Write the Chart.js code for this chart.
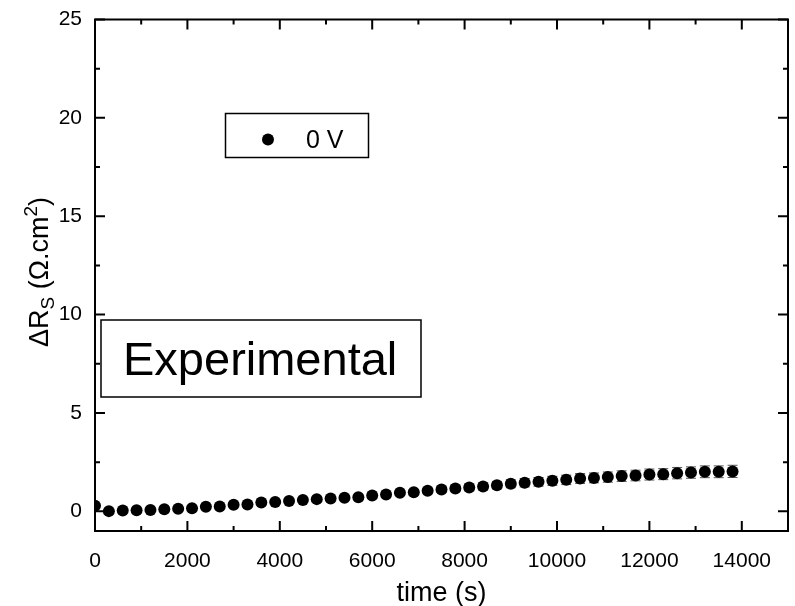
<!DOCTYPE html>
<html>
<head>
<meta charset="utf-8">
<script src="https://cdn.jsdelivr.net/npm/chart.js@4.4.0/dist/chart.umd.min.js"></script>
<style>
  html, body { margin: 0; padding: 0; background: #fff; }
</style>
</head>
<body>
<canvas id="chart" width="795" height="606"></canvas>
<script>
const FONT = '"Liberation Sans", Arial, sans-serif';

// measurement times (s)
const times = [
  0, 300, 600, 900, 1200, 1500, 1800, 2100, 2400, 2700,
  3000, 3300, 3600, 3900, 4200, 4500, 4800, 5100, 5400, 5700,
  6000, 6300, 6600, 6900, 7200, 7500, 7800, 8100, 8400, 8700,
  9000, 9300, 9600, 9900, 10200, 10500, 10800, 11100, 11400, 11700,
  12000, 12300, 12600, 12900, 13200, 13500, 13800,
];

// series resistance change (Ohm.cm2) at 0 V
const deltaRs = [
  0.28, 0.01, 0.04, 0.06, 0.07, 0.11, 0.13, 0.16, 0.23, 0.24,
  0.33, 0.35, 0.45, 0.48, 0.52, 0.58, 0.62, 0.65, 0.69, 0.72,
  0.80, 0.85, 0.94, 0.97, 1.04, 1.11, 1.16, 1.21, 1.26, 1.33,
  1.40, 1.45, 1.50, 1.55, 1.60, 1.67, 1.70, 1.74, 1.79, 1.82,
  1.87, 1.89, 1.94, 1.97, 2.01, 2.01, 2.03,
];

// standard deviation of each point
const errors = [
  0.05, 0.05, 0.05, 0.05, 0.05, 0.05, 0.05, 0.06, 0.06, 0.06,
  0.07, 0.07, 0.08, 0.08, 0.09, 0.09, 0.10, 0.10, 0.11, 0.11,
  0.12, 0.12, 0.13, 0.13, 0.14, 0.15, 0.16, 0.17, 0.18, 0.19,
  0.20, 0.21, 0.22, 0.23, 0.24, 0.25, 0.25, 0.26, 0.27, 0.27,
  0.28, 0.28, 0.29, 0.29, 0.30, 0.30, 0.31,
];

const xTicks = [0, 2000, 4000, 6000, 8000, 10000, 12000, 14000];
const xMinor = [1000, 3000, 5000, 7000, 9000, 11000, 13000, 15000];
const yTicks = [0, 5, 10, 15, 20, 25];
const yMinor = [2.5, 7.5, 12.5, 17.5, 22.5];

const points = times.map((t, i) => ({ x: t, y: deltaRs[i] }));

// error bars, drawn under the markers
const errorBars = {
  id: "errorBars",
  beforeDatasetsDraw(chart) {
    const ctx = chart.ctx;
    const xs = chart.scales.x, ys = chart.scales.y;
    const a = chart.chartArea;
    ctx.save();
    ctx.beginPath();
    ctx.rect(a.left, a.top, a.right - a.left, a.bottom - a.top);
    ctx.clip();
    ctx.strokeStyle = "#555";
    ctx.lineWidth = 1;
    for (let i = 0; i < times.length; i++) {
      const px = xs.getPixelForValue(times[i]);
      const top = ys.getPixelForValue(deltaRs[i] + errors[i]);
      const bot = ys.getPixelForValue(deltaRs[i] - errors[i]);
      ctx.beginPath();
      ctx.moveTo(px, top);
      ctx.lineTo(px, bot);
      ctx.moveTo(px - 5, top);
      ctx.lineTo(px + 5, top);
      ctx.moveTo(px - 5, bot);
      ctx.lineTo(px + 5, bot);
      ctx.stroke();
    }
    ctx.restore();
  },
};

// boxed frame with inward ticks on all four sides
const frame = {
  id: "frame",
  afterDatasetsDraw(chart) {
    const ctx = chart.ctx;
    const a = chart.chartArea;
    const xs = chart.scales.x, ys = chart.scales.y;
    ctx.save();
    ctx.strokeStyle = "#000";
    ctx.lineWidth = 2;
    ctx.strokeRect(a.left, a.top, a.right - a.left, a.bottom - a.top);
    const tickX = (vals, len) => {
      ctx.beginPath();
      for (const v of vals) {
        const px = xs.getPixelForValue(v);
        ctx.moveTo(px, a.bottom);
        ctx.lineTo(px, a.bottom - len);
        ctx.moveTo(px, a.top);
        ctx.lineTo(px, a.top + len);
      }
      ctx.stroke();
    };
    const tickY = (vals, len) => {
      ctx.beginPath();
      for (const v of vals) {
        const py = ys.getPixelForValue(v);
        ctx.moveTo(a.left, py);
        ctx.lineTo(a.left + len, py);
        ctx.moveTo(a.right, py);
        ctx.lineTo(a.right - len, py);
      }
      ctx.stroke();
    };
    tickX(xTicks, 10);
    tickX(xMinor, 5);
    tickY(yTicks, 10);
    tickY(yMinor, 5);
    ctx.restore();
  },
};

// y axis title with sub- and superscript, legend box and text label
const annotations = {
  id: "annotations",
  afterDraw(chart) {
    const ctx = chart.ctx;
    ctx.save();
    ctx.fillStyle = "#000";
    ctx.strokeStyle = "#000";

    // y title
    const F = 27, f = 19;
    const parts = [
      { t: "\u0394R", s: F, dy: 0 },
      { t: "S", s: f, dy: 6 },
      { t: " (\u03A9.cm", s: F, dy: 0 },
      { t: "2", s: f, dy: -11 },
      { t: ")", s: F, dy: 0 },
    ];
    let total = 0;
    for (const p of parts) {
      ctx.font = p.s + "px " + FONT;
      p.w = ctx.measureText(p.t).width;
      total += p.w;
    }
    ctx.translate(48, 272);
    ctx.rotate(-Math.PI / 2);
    ctx.textBaseline = "alphabetic";
    let x = -total / 2;
    for (const p of parts) {
      ctx.font = p.s + "px " + FONT;
      ctx.fillText(p.t, x, p.dy);
      x += p.w;
    }
    ctx.setTransform(1, 0, 0, 1, 0, 0);

    // legend
    ctx.lineWidth = 1.5;
    ctx.strokeRect(225.5, 113.5, 143, 44);
    ctx.beginPath();
    ctx.arc(268, 139.5, 6, 0, 2 * Math.PI);
    ctx.fill();
    ctx.font = "25px " + FONT;
    ctx.textBaseline = "alphabetic";
    ctx.fillText(chart.data.datasets[0].label, 306, 148);

    // text box
    ctx.strokeRect(101, 320, 320, 77);
    ctx.font = "47px " + FONT;
    ctx.fillText("Experimental", 123, 375);
    ctx.restore();
  },
};

// keep tick labels from pushing the plot area inward
const noLabelPadding = (s) => {
  s.paddingTop = 0;
  s.paddingBottom = 0;
  s.paddingLeft = 0;
  s.paddingRight = 0;
};

new Chart(document.getElementById("chart"), {
  type: "scatter",
  data: {
    datasets: [
      {
        label: "0 V",
        data: points,
        pointRadius: 6,
        pointHoverRadius: 6,
        backgroundColor: "#000",
        borderWidth: 0,
        showLine: false,
        clip: 0,
      },
    ],
  },
  options: {
    responsive: false,
    devicePixelRatio: 1,
    animation: false,
    events: [],
    layout: { padding: { top: 19.5, right: 7, left: 0, bottom: 0 } },
    plugins: {
      legend: { display: false },
      tooltip: { enabled: false },
    },
    scales: {
      x: {
        type: "linear",
        min: 0,
        max: 15000,
        afterBuildTicks: (s) => {
          s.ticks = xTicks.map((v) => ({ value: v }));
        },
        afterFit: (s) => {
          s.height = 75;
          noLabelPadding(s);
        },
        grid: { display: false, drawTicks: false },
        border: { display: false },
        ticks: {
          color: "#000",
          font: { family: FONT, size: 21 },
          padding: 18,
          maxRotation: 0,
          autoSkip: false,
          callback: (v) => String(v),
        },
        title: {
          display: true,
          text: "time (s)",
          color: "#000",
          font: { family: FONT, size: 27 },
          padding: { top: 0, bottom: -4 },
        },
      },
      y: {
        type: "linear",
        min: -1,
        max: 25,
        afterBuildTicks: (s) => {
          s.ticks = yTicks.map((v) => ({ value: v }));
        },
        afterFit: (s) => {
          s.width = 95;
          noLabelPadding(s);
        },
        grid: { display: false, drawTicks: false },
        border: { display: false },
        ticks: {
          color: "#000",
          font: { family: FONT, size: 21 },
          padding: 13,
          autoSkip: false,
          callback: (v) => String(v),
        },
      },
    },
  },
  plugins: [errorBars, frame, annotations],
});
</script>
</body>
</html>
